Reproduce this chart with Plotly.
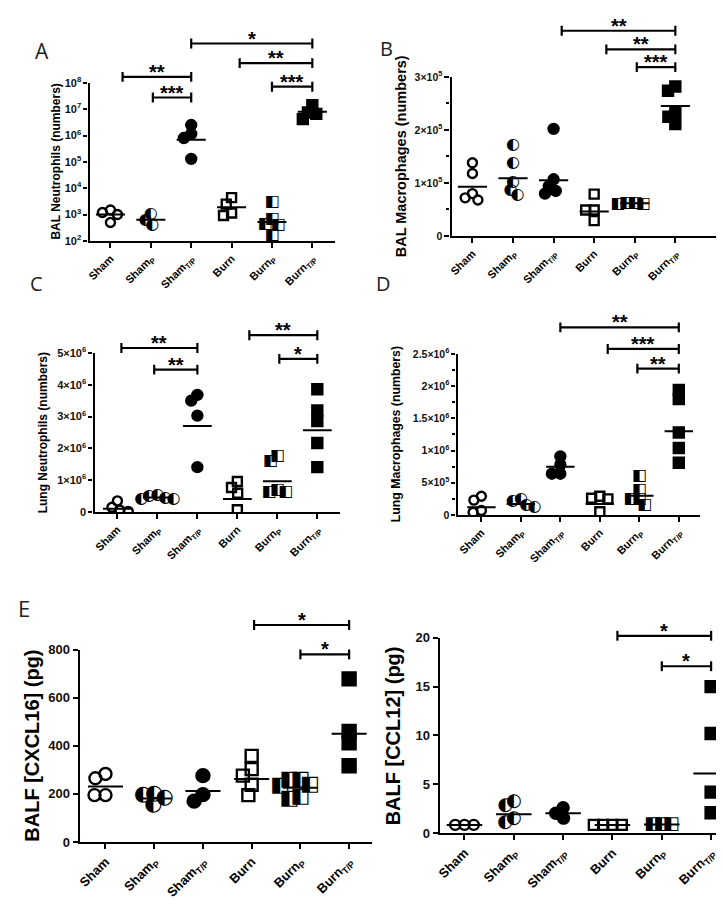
import math
import plotly.graph_objects as go

W, H = 724, 900

GROUPS = ["Sham", "ShamP", "ShamT/P", "Burn", "BurnP", "BurnT/P"]
TICKTEXT = ["Sham", "Sham<sub>P</sub>", "Sham<sub>T/P</sub>", "Burn", "Burn<sub>P</sub>", "Burn<sub>T/P</sub>"]

# ---- Panel A: BAL neutrophils (log scale)
A_SHAM = [1.5e3, 1.2e3, 1.0e3, 5.0e2]
A_SHAMP = [1.05e3, 6.0e2, 3.9e2]
A_SHAMTP = [2.5e6, 1.15e6, 8.0e5, 1.3e5]
A_BURN = [4.4e3, 2.5e3, 1.15e3, 9.2e2]
A_BURNP = [2.9e3, 6.5e2, 4.3e2, 3.9e2, 1.7e2]
A_BURNTP = [1.4e7, 7.5e6, 6.6e6, 4.2e6]
A_MEANS = [1.0e3, 6.3e2, 6.9e5, 1.9e3, 5.2e2, 7.9e6]

# ---- Panel B: BAL macrophages
B_SHAM = [1.38e5, 1.18e5, 0.80e5, 0.72e5, 0.68e5]
B_SHAMP = [1.71e5, 1.37e5, 1.01e5, 0.86e5, 0.77e5]
B_SHAMTP = [2.02e5, 1.07e5, 0.94e5, 0.85e5, 0.80e5]
B_BURN = [0.79e5, 0.49e5, 0.49e5, 0.29e5]
B_BURNP = [0.63e5, 0.62e5, 0.61e5, 0.60e5]
B_BURNTP = [2.82e5, 2.74e5, 2.34e5, 2.25e5, 2.11e5]
B_MEANS = [0.93e5, 1.09e5, 1.05e5, 0.46e5, 0.62e5, 2.45e5]

# ---- Panel C: lung neutrophils
C_SHAM = [0.35e6, 0.15e6, 0.06e6, 0.02e6]
C_SHAMP = [0.55e6, 0.50e6, 0.45e6, 0.42e6, 0.40e6]
C_SHAMTP = [3.68e6, 3.50e6, 3.03e6, 1.41e6]
C_BURN = [0.96e6, 0.77e6, 0.59e6, 0.07e6]
C_BURNP = [1.75e6, 1.60e6, 0.69e6, 0.62e6, 0.62e6]
C_BURNTP = [3.86e6, 3.19e6, 2.86e6, 2.17e6, 1.41e6]
C_MEANS = [0.10e6, 0.46e6, 2.70e6, 0.41e6, 0.97e6, 2.57e6]

# ---- Panel D: lung macrophages
D_SHAM = [0.29e6, 0.23e6, 0.07e6, 0.04e6]
D_SHAMP = [0.25e6, 0.21e6, 0.15e6, 0.12e6]
D_SHAMTP = [0.91e6, 0.78e6, 0.64e6, 0.64e6]
D_BURN = [0.29e6, 0.26e6, 0.25e6, 0.05e6]
D_BURNP = [0.60e6, 0.39e6, 0.25e6, 0.25e6, 0.15e6]
D_BURNTP = [1.94e6, 1.80e6, 1.28e6, 1.04e6, 0.81e6]
D_MEANS = [0.12e6, 0.17e6, 0.75e6, 0.17e6, 0.30e6, 1.30e6]

# ---- Panel E (left): BALF CXCL16 (pg)
E1_SHAM = [283, 265, 195, 195]
E1_SHAMP = [200, 195, 185, 155]
E1_SHAMTP = [276, 197, 170]
E1_BURN = [358, 303, 276, 238, 195]
E1_BURNP = [260, 260, 238, 235, 188, 181]
E1_BURNTP = [678, 460, 412, 317]
E1_MEANS = [231, 181, 212, 262, 226, 450]

# ---- Panel E (right): BALF CCL12 (pg)
E2_SHAM = [0.85, 0.85, 0.85]
E2_SHAMP = [3.2, 2.8, 1.48, 1.14]
E2_SHAMTP = [2.6, 2.04, 1.54]
E2_BURN = [0.85, 0.85, 0.85, 0.85]
E2_BURNP = [0.9, 0.9, 0.9]
E2_BURNTP = [15.0, 10.2, 4.2, 2.1]
E2_MEANS = [0.85, 1.94, 2.04, 0.85, 0.9, 6.1]

# significance brackets: (stars, from category, to category)
A_SIG = [("*", 2.0, 5.0), ("**", 3.2, 5.0), ("**", 0.3, 2.0), ("***", 4.0, 5.0), ("***", 1.05, 2.0)]
B_SIG = [("**", 2.2, 5.0), ("**", 3.3, 5.0), ("***", 4.05, 5.0)]
C_SIG = [("**", 3.3, 5.0), ("**", 0.1, 2.0), ("*", 4.05, 5.0), ("**", 0.92, 2.0)]
D_SIG = [("**", 2.0, 5.0), ("***", 3.2, 5.0), ("**", 3.95, 5.0)]
E1_SIG = [("*", 3.05, 5.0), ("*", 4.0, 5.0)]
E2_SIG = [("*", 3.1, 5.0), ("*", 4.0, 5.0)]

FONT = "Liberation Sans, Arial, sans-serif"

PANELS = [
    dict(vals=[A_SHAM, A_SHAMP, A_SHAMTP, A_BURN, A_BURNP, A_BURNTP], means=A_MEANS,
         xl=78, xr=325, p0=99, step=40.6, yt=68, yb=229, log=True, yr=(2, 8),
         ytv=[1e2, 1e3, 1e4, 1e5, 1e6, 1e7, 1e8],
         ytt=["10<sup>%d</sup>" % k for k in range(2, 9)], minor=None,
         sig=A_SIG, sigy=[28, 48, 62, 72, 83],
         title="BAL Neutrophils (numbers)", tx=44, tfs=12,
         letter="A", lx=30, ly=36, lfs=21,
         msize=10, tickfs=11, ticklen=4, xtickfs=11, glyph=16),
    dict(vals=[B_SHAM, B_SHAMP, B_SHAMTP, B_BURN, B_BURNP, B_BURNTP], means=B_MEANS,
         xl=442, xr=712, p0=463, step=40.8, yt=62, yb=224, log=False, yr=(0, 3e5),
         ytv=[0, 1e5, 2e5, 3e5], ytt=["0", "1×10<sup>5</sup>", "2×10<sup>5</sup>", "3×10<sup>5</sup>"],
         minor=0.5e5,
         sig=B_SIG, sigy=[15, 34, 52],
         title="BAL Macrophages (numbers)", tx=392, tfs=14.5,
         letter="B", lx=377, ly=33, lfs=20,
         msize=10, tickfs=10.5, ticklen=5, xtickfs=11, glyph=16),
    dict(vals=[C_SHAM, C_SHAMP, C_SHAMTP, C_BURN, C_BURNP, C_BURNTP], means=C_MEANS,
         xl=83, xr=330, p0=106, step=40.2, yt=343, yb=505, log=False, yr=(0, 5e6),
         ytv=[0, 1e6, 2e6, 3e6, 4e6, 5e6],
         ytt=["0"] + ["%d×10<sup>6</sup>" % k for k in range(1, 6)], minor=None,
         sig=C_SIG, sigy=[325, 338, 349, 360],
         title="Lung Neutrophils (numbers)", tx=32, tfs=12,
         letter="C", lx=25, ly=272, lfs=20,
         msize=10, tickfs=11, ticklen=4, xtickfs=11, glyph=16),
    dict(vals=[D_SHAM, D_SHAMP, D_SHAMTP, D_BURN, D_BURNP, D_BURNTP], means=D_MEANS,
         xl=448, xr=692, p0=472, step=39.7, yt=344, yb=508, log=False, yr=(0, 2.5e6),
         ytv=[0, 0.5e6, 1e6, 1.5e6, 2e6, 2.5e6],
         ytt=["0", "5×10<sup>5</sup>", "1×10<sup>6</sup>", "1.5×10<sup>6</sup>", "2×10<sup>6</sup>", "2.5×10<sup>6</sup>"],
         minor=0.25e6,
         sig=D_SIG, sigy=[317, 339, 359],
         title="Lung Macrophages (numbers)", tx=387, tfs=12.3,
         letter="D", lx=374, ly=272, lfs=20,
         msize=10, tickfs=10.5, ticklen=4, xtickfs=11, glyph=16),
    dict(vals=[E1_SHAM, E1_SHAMP, E1_SHAMTP, E1_BURN, E1_BURNP, E1_BURNTP], means=E1_MEANS,
         xl=68, xr=362, p0=94, step=49, yt=645, yb=841, log=False, yr=(0, 800),
         ytv=[0, 200, 400, 600, 800], ytt=["0", "200", "400", "600", "800"], minor=None,
         sig=E1_SIG, sigy=[620, 650],
         title="BALF [CXCL16] (pg)", tx=20, tfs=20,
         letter="E", lx=12, ly=603, lfs=22,
         msize=13, tickfs=13, ticklen=5, xtickfs=13, glyph=21),
    dict(vals=[E2_SHAM, E2_SHAMP, E2_SHAMTP, E2_BURN, E2_BURNP, E2_BURNTP], means=E2_MEANS,
         xl=430, xr=724, p0=455, step=49.6, yt=633, yb=832, log=False, yr=(0, 20),
         ytv=[0, 5, 10, 15, 20], ytt=["0", "5", "10", "15", "20"], minor=None,
         sig=E2_SIG, sigy=[631, 662],
         title="BALF [CCL12] (pg)", tx=384, tfs=20,
         letter=None, lx=0, ly=0, lfs=0,
         msize=11, tickfs=13, ticklen=5, xtickfs=13, glyph=18),
]


def swarm(ypx, d):
    placed, out = [], []
    for y in ypx:
        cands = [0.0]
        for (px, py) in placed:
            dy = abs(py - y)
            if dy < d:
                dx = math.sqrt(d * d - dy * dy)
                cands += [px - dx, px + dx]
        best = 0.0
        for c in sorted(cands, key=lambda c: (abs(c), c)):
            if all((c - px) ** 2 + (y - py) ** 2 >= d * d - 1e-6 for px, py in placed):
                best = c
                break
        placed.append((best, y))
        out.append(best)
    return out


def bold(s):
    return "<b>%s</b>" % s


fig = go.Figure()
layout = dict(width=W, height=H, margin=dict(l=0, r=0, t=0, b=0), autosize=False,
              paper_bgcolor="white", plot_bgcolor="white", showlegend=False,
              shapes=[], annotations=[], font=dict(family=FONT, color="black"))

for i, P in enumerate(PANELS, start=1):
    xs = "x" if i == 1 else "x%d" % i
    ys = "y" if i == 1 else "y%d" % i
    xa = "xaxis" if i == 1 else "xaxis%d" % i
    ya = "yaxis" if i == 1 else "yaxis%d" % i
    lo, hi = P["yr"]
    f = math.log10 if P["log"] else (lambda v: v)

    def ypix(v, P=P, f=f, lo=lo, hi=hi):
        return P["yb"] - (f(v) - lo) / (hi - lo) * (P["yb"] - P["yt"])

    xr0 = (P["xl"] - P["p0"]) / P["step"]
    xr1 = (P["xr"] - P["p0"]) / P["step"]
    ms = P["msize"]
    for g, vals in enumerate(P["vals"]):
        offs = swarm([ypix(v) for v in vals], ms * 0.85)
        xv = [g + o / P["step"] for o in offs]
        if g in (1, 4):
            fig.add_trace(go.Scatter(x=xv, y=vals, mode="text", xaxis=xs, yaxis=ys,
                                     text=["◐" if g == 1 else "◧"] * len(vals),
                                     textposition="middle center",
                                     textfont=dict(family="DejaVu Sans", size=P["glyph"], color="black"),
                                     hoverinfo="skip"))
        else:
            sym = {0: "circle-open", 2: "circle", 3: "square-open", 5: "square"}[g]
            fig.add_trace(go.Scatter(x=xv, y=vals, mode="markers", xaxis=xs, yaxis=ys,
                                     marker=dict(symbol=sym, size=ms if g in (2, 5) else ms - 1,
                                                 color="black", line=dict(color="black", width=2.4)),
                                     hoverinfo="skip"))
    mx, my = [], []
    for g, m in enumerate(P["means"]):
        mx += [g - 0.36, g + 0.36, None]
        my += [m, m, None]
    fig.add_trace(go.Scatter(x=mx, y=my, mode="lines", xaxis=xs, yaxis=ys,
                             line=dict(color="black", width=2), hoverinfo="skip"))

    layout[xa] = dict(domain=[P["xl"] / W, P["xr"] / W], range=[xr0, xr1], anchor=ys,
                      showline=True, linewidth=2, linecolor="black", ticks="outside",
                      ticklen=5, tickwidth=1.5, tickcolor="black", tickvals=list(range(6)),
                      ticktext=[bold(t) for t in TICKTEXT], tickangle=-45, showgrid=False, zeroline=False,
                      tickfont=dict(family=FONT, size=P["xtickfs"], color="black"),
                      fixedrange=True)
    yax = dict(domain=[1 - P["yb"] / H, 1 - P["yt"] / H], anchor=xs,
               showline=True, linewidth=2.2, linecolor="black", ticks="outside",
               ticklen=P["ticklen"], tickwidth=1.8, tickcolor="black", tickvals=P["ytv"],
               ticktext=[bold(t) for t in P["ytt"]],
               showgrid=False, zeroline=False,
               tickfont=dict(family=FONT, size=P["tickfs"], color="#111"),
               fixedrange=True)
    if P["log"]:
        yax.update(type="log", range=[lo, hi])
    else:
        yax.update(range=[lo, hi])
    if P["minor"]:
        yax["minor"] = dict(ticks="outside", dtick=P["minor"], ticklen=3, tickwidth=1.5, tickcolor="black",
                            showgrid=False)
    layout[ya] = yax

    # significance brackets
    for (stars, a, b), py in zip(P["sig"], P["sigy"]):
        yp = 1 - py / H
        tk = 5 / H
        for (x0, y0, x1, y1) in [(a, yp, b, yp), (a, yp + tk, a, yp - tk), (b, yp + tk, b, yp - tk)]:
            layout["shapes"].append(dict(type="line", xref=xs, yref="paper", x0=x0, x1=x1, y0=y0, y1=y1,
                                         line=dict(color="black", width=2.2)))
        layout["annotations"].append(dict(x=(a + b) / 2, y=yp, xref=xs, yref="paper", text=bold(stars),
                                          showarrow=False, xanchor="center", yanchor="middle", yshift=5,
                                          font=dict(family=FONT, size=20, color="black")))
    # axis title
    layout["annotations"].append(dict(x=P["tx"] / W, y=1 - (P["yt"] + P["yb"]) / 2 / H, xref="paper",
                                      yref="paper", text=bold(P["title"]), textangle=-90, showarrow=False,
                                      xanchor="center", yanchor="middle",
                                      font=dict(family=FONT, size=P["tfs"], color="black")))
    if P["letter"]:
        layout["annotations"].append(dict(x=P["lx"] / W, y=1 - P["ly"] / H, xref="paper", yref="paper",
                                          text=P["letter"], showarrow=False, xanchor="center", yanchor="middle",
                                          font=dict(family="Open Sans, sans-serif", size=P["lfs"], color="#222")))

fig.update_layout(**layout)
fig.write_html("out.html")
